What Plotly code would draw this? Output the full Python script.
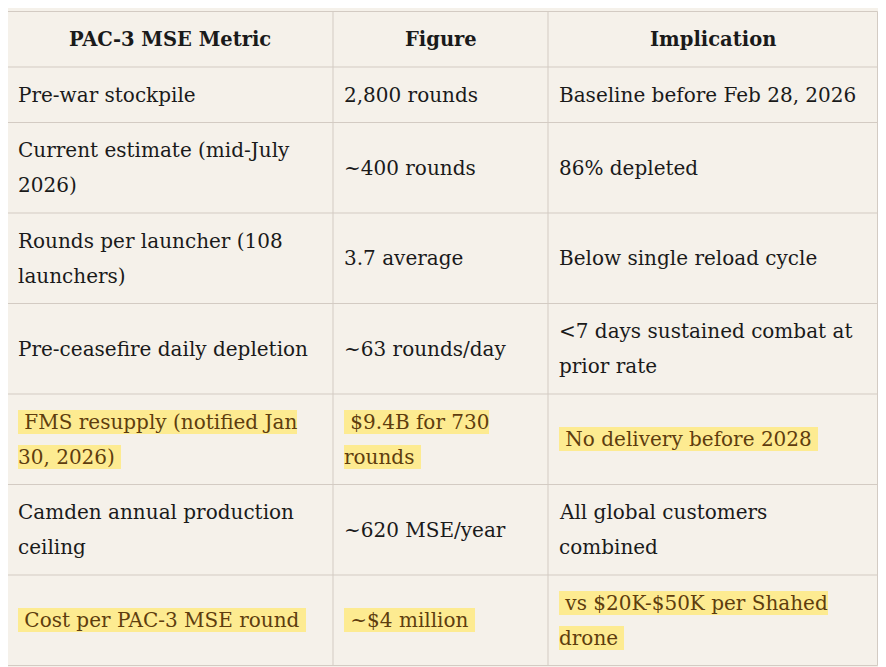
import plotly.graph_objects as go

# DATA
#----------------------------------------------------------------
headers = ["PAC-3 MSE Metric", "Figure", "Implication"]

# line breaks as they wrap in the reference
metric = ["Pre-war stockpile",
          "Current estimate (mid-July\n2026)",
          "Rounds per launcher (108\nlaunchers)",
          "Pre-ceasefire daily depletion",
          "FMS resupply (notified Jan\n30, 2026)",
          "Camden annual production\nceiling",
          "Cost per PAC-3 MSE round"]
figure_vals = ["2,800 rounds",
               "~400 rounds",
               "3.7 average",
               "~63 rounds/day",
               "$9.4B for 730\nrounds",
               "~620 MSE/year",
               "~$4 million"]
implication = ["Baseline before Feb 28, 2026",
               "86% depleted",
               "Below single reload cycle",
               "<7 days sustained combat at\nprior rate",
               "No delivery before 2028",
               "All global customers\ncombined",
               "vs $20K-$50K per Shahed\ndrone"]
highlighted = [False, False, False, False, True, False, True]

# LOOK
#----------------------------------------------------------------
W, H = 886, 667
off = 8          # page margin the browser puts round the figure
bg = "#f5f1ea"
line_col = "#d3cbc3"
ink = "#1a1a1a"
hl_ink = "#5e3d0e"
hl_bg = "#fdeb91"
fnt = "DejaVu Serif"
fsize = 20
hsize = 19.5

col_w = [326, 215, 330]
x_left, y_top = 7, 11.5
pad_x = 12
row_one = 55.5   # one-line row height
line_h = 35

cols = [metric, figure_vals, implication]
body = [[c[i].split("\n") for c in cols] for i in range(len(metric))]

col_edges = [x_left]
for w in col_w:
    col_edges.append(col_edges[-1] + w)
col_edges[-1] -= 0.5

row_h = [row_one] + [row_one + (max(len(c) for c in r) - 1) * line_h for r in body]
row_edges = [y_top]
for h in row_h:
    row_edges.append(row_edges[-1] + h)

fig = go.Figure()
shapes = []
anns = []

# grid
for xe in col_edges:
    shapes.append(dict(type="line", x0=xe, x1=xe, y0=row_edges[0], y1=row_edges[-1],
                       line=dict(color=line_col, width=1)))
for ye in row_edges:
    shapes.append(dict(type="line", x0=col_edges[0], x1=col_edges[-1], y0=ye, y1=ye,
                       line=dict(color=line_col, width=1)))

# header
for j, h in enumerate(headers):
    anns.append(dict(x=(col_edges[j] + col_edges[j + 1]) / 2,
                     y=(row_edges[0] + row_edges[1]) / 2,
                     text="<b>" + h + "</b>", xanchor="center", yanchor="middle",
                     showarrow=False,
                     font=dict(family=fnt, size=hsize, color=ink)))

# body
for i, r in enumerate(body):
    yc = (row_edges[i + 1] + row_edges[i + 2]) / 2
    for j, lines in enumerate(r):
        n = len(lines)
        for k, ln in enumerate(lines):
            txt = ln
            if highlighted[i]:
                if k == 0:
                    txt = "\u00a0" + txt
                if k == n - 1:
                    txt = txt + "\u00a0"
            anns.append(dict(x=col_edges[j] + pad_x - 1,
                             y=yc + (k - (n - 1) / 2) * line_h,
                             text=txt, xanchor="left", yanchor="middle",
                             showarrow=False,
                             bgcolor=hl_bg if highlighted[i] else None,
                             borderpad=0, borderwidth=0,
                             font=dict(family=fnt, size=fsize,
                                       color=hl_ink if highlighted[i] else ink)))

fig.update_layout(width=W - 2 * off, height=H - off, margin=dict(l=0, r=0, t=0, b=0),
                  paper_bgcolor=bg, plot_bgcolor=bg,
                  shapes=shapes, annotations=anns, showlegend=False,
                  xaxis=dict(range=[off, W - off], visible=False, fixedrange=True),
                  yaxis=dict(range=[H, off], visible=False, fixedrange=True))

fig.write_html("out.html")
